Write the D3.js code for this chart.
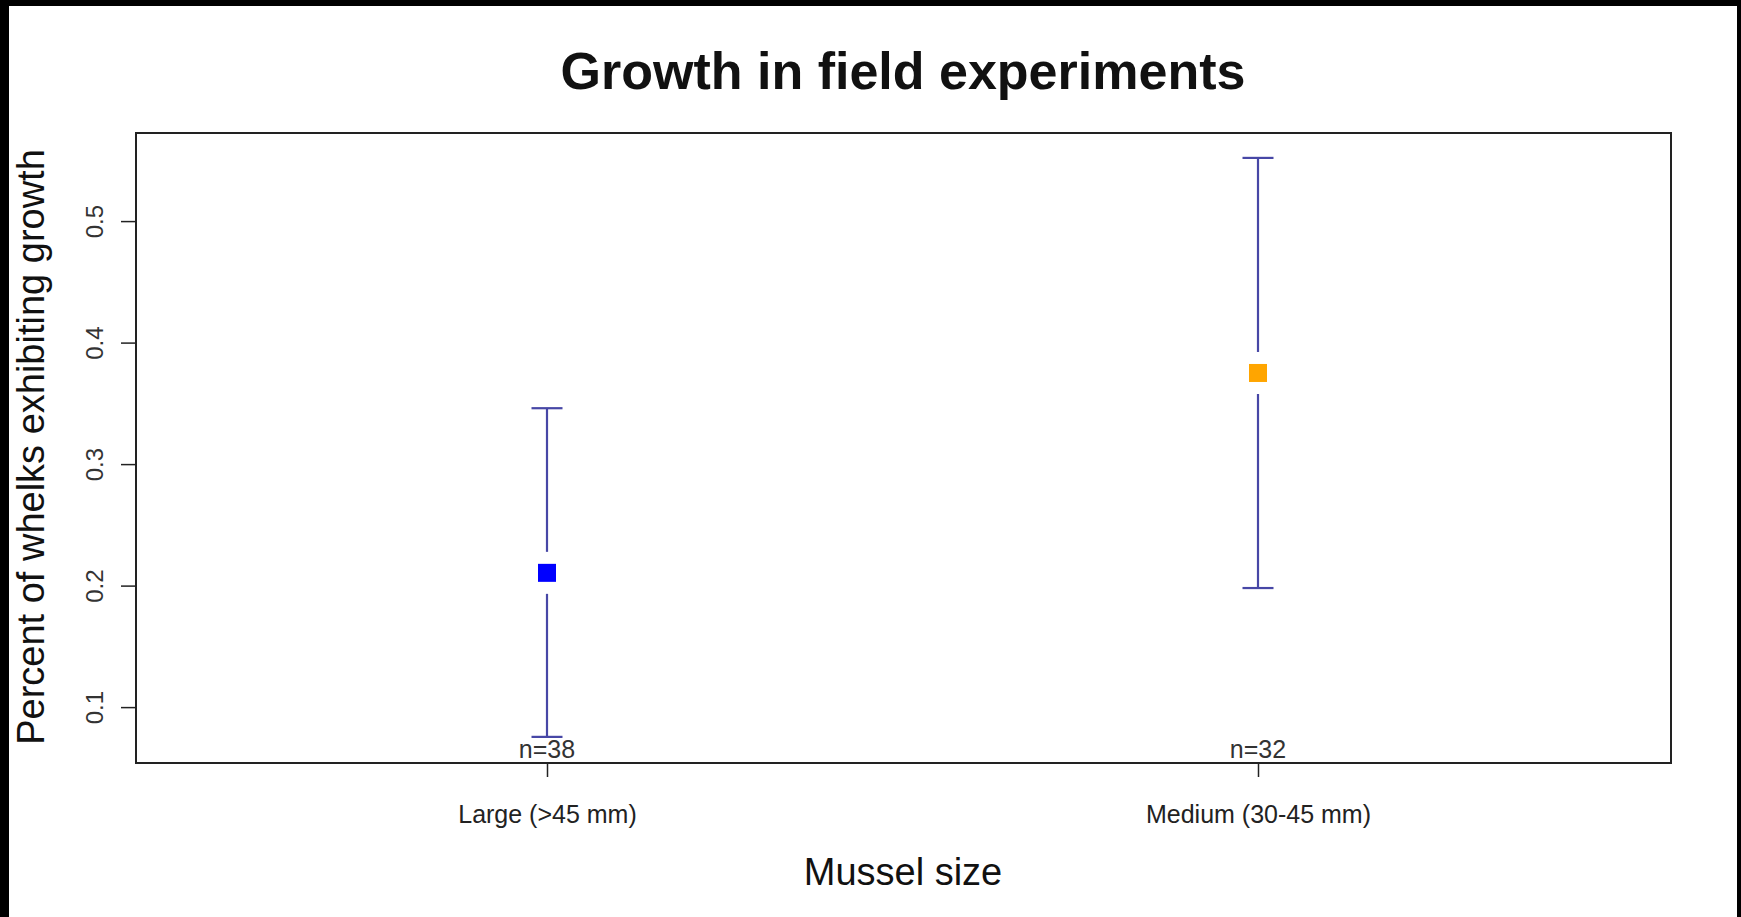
<!DOCTYPE html>
<html>
<head>
<meta charset="utf-8">
<script src="https://cdn.jsdelivr.net/npm/d3@7"></script>
<style>
  body { margin: 0; background: #fff; }
  svg { display: block; font-family: "Liberation Sans", Arial, sans-serif; }
</style>
</head>
<body>
<div id="chart"></div>
<script>
const width = 1741;
const height = 917;

// data
const categories = ["Large (>45 mm)", "Medium (30-45 mm)"];
const means = [0.2105, 0.375];
const lower = [0.0755, 0.198];
const upper = [0.346, 0.552];
const counts = ["n=38", "n=32"];
const pointColors = ["#0000ff", "#ffa500"];
const yTicks = [0.1, 0.2, 0.3, 0.4, 0.5];

const plot = { left: 136, right: 1671, top: 133, bottom: 763 };

const svg = d3.select("#chart")
    .append("svg")
    .attr("width", width)
    .attr("height", height);

// black edges of the screenshot
svg.append("rect").attr("x", 0).attr("y", 0).attr("width", width).attr("height", 6).attr("fill", "#000");
svg.append("rect").attr("x", 0).attr("y", 0).attr("width", 9).attr("height", height).attr("fill", "#000");
svg.append("rect").attr("x", 1737).attr("y", 0).attr("width", 4).attr("height", height).attr("fill", "#000");

const x = d3.scalePoint()
    .domain(categories)
    .range([547, 1258]);

const y = d3.scaleLinear()
    .domain([0.054, 0.5725])
    .range([plot.bottom, plot.top]);

// y axis
const yAxis = svg.append("g")
    .attr("transform", `translate(${plot.left},0)`)
    .call(d3.axisLeft(y).tickValues(yTicks).tickSize(15).tickFormat(d3.format(".1f")));
yAxis.select(".domain").remove();
yAxis.selectAll(".tick line").attr("stroke", "#222").attr("stroke-width", 1.5);
yAxis.selectAll(".tick text")
    .attr("font-size", 24)
    .attr("fill", "#333")
    .attr("text-anchor", "middle")
    .attr("transform", "rotate(-90)")
    .attr("x", 0)
    .attr("y", -33)
    .attr("dy", 0);

// x axis
const xAxis = svg.append("g")
    .attr("transform", `translate(0,${plot.bottom})`)
    .call(d3.axisBottom(x).tickSize(14));
xAxis.select(".domain").remove();
xAxis.selectAll(".tick line").attr("stroke", "#222").attr("stroke-width", 1.5);
xAxis.selectAll(".tick text")
    .attr("font-size", 25)
    .attr("fill", "#222")
    .attr("y", 60)
    .attr("dy", 0);

// plot frame
svg.append("rect")
    .attr("x", plot.left)
    .attr("y", plot.top)
    .attr("width", plot.right - plot.left)
    .attr("height", plot.bottom - plot.top)
    .attr("fill", "none")
    .attr("stroke", "#222")
    .attr("stroke-width", 2);

// error bars with a gap around the point
const gap = 21;
const cap = 15.5;
const barColor = "#4747a6";
const bars = svg.append("g").selectAll("g")
    .data(categories)
    .join("g");

bars.append("line")
    .attr("x1", d => x(d)).attr("x2", d => x(d))
    .attr("y1", (d, i) => y(upper[i]))
    .attr("y2", (d, i) => y(means[i]) - gap)
    .attr("stroke", barColor).attr("stroke-width", 2.2);
bars.append("line")
    .attr("x1", d => x(d)).attr("x2", d => x(d))
    .attr("y1", (d, i) => y(means[i]) + gap)
    .attr("y2", (d, i) => y(lower[i]))
    .attr("stroke", barColor).attr("stroke-width", 2.2);
bars.append("line")
    .attr("x1", d => x(d) - cap).attr("x2", d => x(d) + cap)
    .attr("y1", (d, i) => y(upper[i])).attr("y2", (d, i) => y(upper[i]))
    .attr("stroke", barColor).attr("stroke-width", 2.2);
bars.append("line")
    .attr("x1", d => x(d) - cap).attr("x2", d => x(d) + cap)
    .attr("y1", (d, i) => y(lower[i])).attr("y2", (d, i) => y(lower[i]))
    .attr("stroke", barColor).attr("stroke-width", 2.2);
bars.append("rect")
    .attr("x", d => x(d) - 9)
    .attr("y", (d, i) => y(means[i]) - 9)
    .attr("width", 18)
    .attr("height", 18)
    .attr("fill", (d, i) => pointColors[i]);

// sample sizes
bars.append("text")
    .attr("x", d => x(d))
    .attr("y", 758)
    .attr("text-anchor", "middle")
    .attr("font-size", 25)
    .attr("fill", "#333")
    .text((d, i) => counts[i]);

// titles
svg.append("text")
    .attr("x", 903)
    .attr("y", 89)
    .attr("text-anchor", "middle")
    .attr("font-size", 52)
    .attr("font-weight", "bold")
    .attr("fill", "#111")
    .text("Growth in field experiments");

svg.append("text")
    .attr("x", 903)
    .attr("y", 885)
    .attr("text-anchor", "middle")
    .attr("font-size", 38)
    .attr("fill", "#111")
    .text("Mussel size");

svg.append("text")
    .attr("transform", `translate(44,447) rotate(-90)`)
    .attr("text-anchor", "middle")
    .attr("font-size", 38)
    .attr("fill", "#111")
    .text("Percent of whelks exhibiting growth");
</script>
</body>
</html>
